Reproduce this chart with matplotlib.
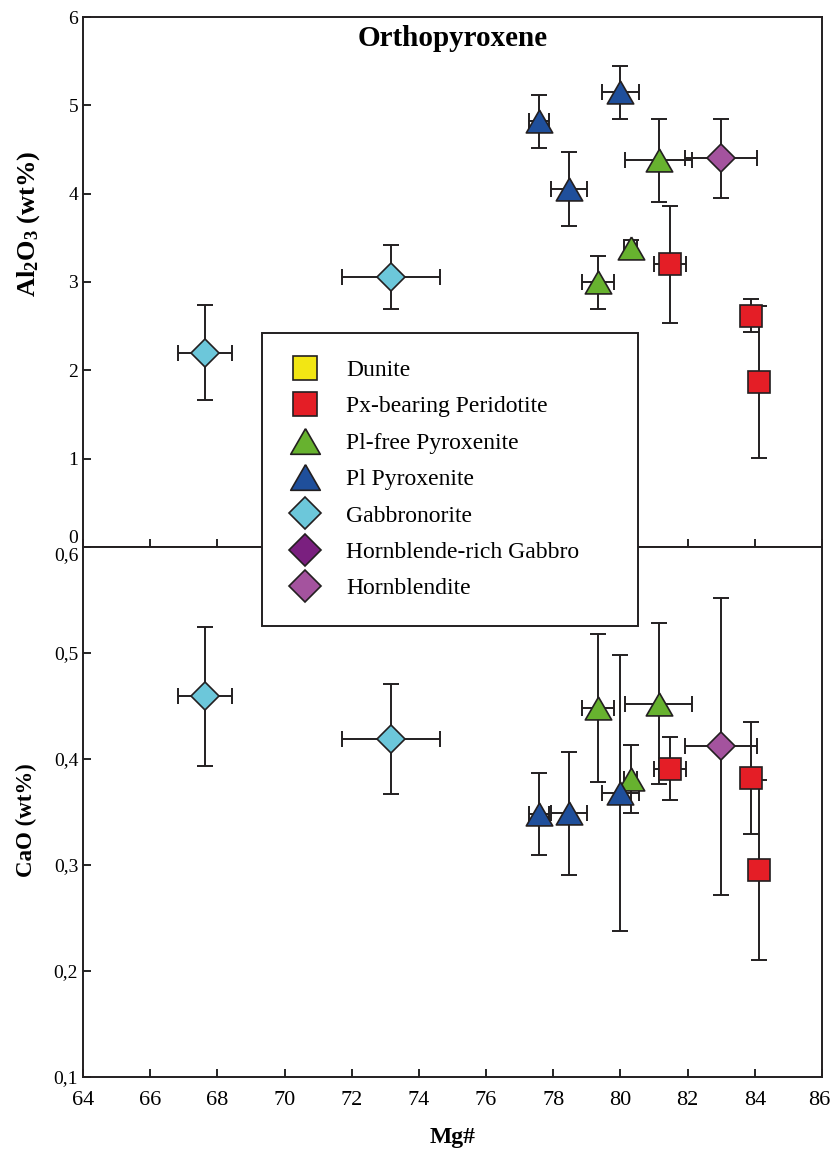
import numpy as np
import matplotlib
matplotlib.use('Agg')
import matplotlib.pyplot as plt
from matplotlib.lines import Line2D
from matplotlib.transforms import ScaledTranslation

plt.rcParams['font.family'] = ['Liberation Serif', 'DejaVu Serif']
plt.rcParams['mathtext.fontset'] = 'custom'
plt.rcParams['mathtext.rm'] = 'Liberation Serif:bold'
plt.rcParams['mathtext.bf'] = 'Liberation Serif:bold'
plt.rcParams['mathtext.it'] = 'Liberation Serif:bold'

# Mg# with 1-sigma errors, per lithology
gab_mg = [67.63, 73.17]
gab_mg_err = [0.80, 1.47]
plfree_mg = [79.33, 80.30, 81.14]
plfree_mg_err = [0.48, 0.20, 1.00]
pl_mg = [77.57, 78.46, 80.00]
pl_mg_err = [0.30, 0.53, 0.54]
per_mg = [81.47, 83.88, 84.12]
per_mg_err = [0.48, 0.0, 0.0]
hbl_mg = [83.00]
hbl_mg_err = [1.07]

# Al2O3 (wt%)
gab_al = [2.20, 3.06]
gab_al_err = [0.54, 0.36]
plfree_al = [3.00, 3.38, 4.38]
plfree_al_err = [0.30, 0.10, 0.47]
pl_al = [4.82, 4.05, 5.15]
pl_al_err = [0.30, 0.42, 0.30]
per_al = [3.20, 2.62, 1.87]
per_al_err = [0.66, 0.19, 0.86]
hbl_al = [4.40]
hbl_al_err = [0.45]

# CaO (wt%)
gab_ca = [0.459, 0.419]
gab_ca_err = [0.066, 0.052]
plfree_ca = [0.448, 0.381, 0.452]
plfree_ca_err = [0.070, 0.032, 0.076]
pl_ca = [0.348, 0.349, 0.368]
pl_ca_err = [0.039, 0.058, 0.130]
per_ca = [0.391, 0.382, 0.295]
per_ca_err = [0.030, 0.053, 0.085]
hbl_ca = [0.412]
hbl_ca_err = [0.140]

legend_labels = ['Dunite', 'Px-bearing Peridotite', 'Pl-free Pyroxenite', 'Pl Pyroxenite',
                 'Gabbronorite', 'Hornblende-rich Gabbro', 'Hornblendite']

al_ticks = [0, 1, 2, 3, 4, 5, 6]
ca_ticks = [0.1, 0.2, 0.3, 0.4, 0.5, 0.6]
ca_ticklabels = ['0,1', '0,2', '0,3', '0,4', '0,5', '0,6']
mg_ticks = [64, 66, 68, 70, 72, 74, 76, 78, 80, 82, 84, 86]

# equilateral triangle marker
tri = [(0, 0.866), (-1, -0.866), (1, -0.866), (0, 0.866)]

styles = {
    'Dunite': dict(marker='s', ms=16, mfc='#F2E614'),
    'Px-bearing Peridotite': dict(marker='s', ms=15.8, mfc='#E41E26'),
    'Pl-free Pyroxenite': dict(marker=tri, ms=19, mfc='#67B22F'),
    'Pl Pyroxenite': dict(marker=tri, ms=19, mfc='#1F4F9B'),
    'Gabbronorite': dict(marker='D', ms=14.5, mfc='#6CC7DA'),
    'Hornblende-rich Gabbro': dict(marker='D', ms=14.5, mfc='#7A1F7F'),
    'Hornblendite': dict(marker='D', ms=14.5, mfc='#A4539E'),
}

fig = plt.figure(figsize=(8.32, 11.53), dpi=100)
ax1 = fig.add_axes([83/832, 1-547/1153, 739/832, 530/1153])
ax2 = fig.add_axes([83/832, 1-1077/1153, 739/832, 530/1153])

top_sets = [
    ('Pl-free Pyroxenite', plfree_mg, plfree_al, plfree_mg_err, plfree_al_err),
    ('Pl Pyroxenite', pl_mg, pl_al, pl_mg_err, pl_al_err),
    ('Gabbronorite', gab_mg, gab_al, gab_mg_err, gab_al_err),
    ('Px-bearing Peridotite', per_mg, per_al, per_mg_err, per_al_err),
    ('Hornblendite', hbl_mg, hbl_al, hbl_mg_err, hbl_al_err),
]
bot_sets = [
    ('Pl-free Pyroxenite', plfree_mg, plfree_ca, plfree_mg_err, plfree_ca_err),
    ('Pl Pyroxenite', pl_mg, pl_ca, pl_mg_err, pl_ca_err),
    ('Gabbronorite', gab_mg, gab_ca, gab_mg_err, gab_ca_err),
    ('Px-bearing Peridotite', per_mg, per_ca, per_mg_err, per_ca_err),
    ('Hornblendite', hbl_mg, hbl_ca, hbl_mg_err, hbl_ca_err),
]

for ax, sets in [(ax1, top_sets), (ax2, bot_sets)]:
    # error bars underneath all symbols
    for name, x, y, xe, ye in sets:
        ax.errorbar(x, y, xerr=xe, yerr=ye, fmt='none', ecolor='#231F20',
                    elinewidth=1.4, capsize=6, capthick=1.4, zorder=2)
    for name, x, y, xe, ye in sets:
        st = styles[name]
        ax.plot(x, y, linestyle='none', marker=st['marker'], markersize=st['ms'],
                markerfacecolor=st['mfc'], markeredgecolor='#231F20',
                markeredgewidth=1.2, zorder=3)
    ax.set_xlim(64, 86)
    ax.set_xticks(mg_ticks)
    ax.tick_params(direction='in', length=6, width=1.2, top=False, right=False)
    for s in ax.spines.values():
        s.set_linewidth(1.4)
        s.set_color('#231F20')

ax1.set_ylim(0, 6)
ax1.set_yticks(al_ticks)
ax1.set_yticklabels([str(t) for t in al_ticks], fontsize=14)
ax1.tick_params(axis='x', labelbottom=False)
ax1.set_ylabel(r'Al$_2$O$_3$ (wt%)', fontsize=19, fontweight='bold')
ax1.yaxis.set_label_coords(-0.056, 0.61)
ax1.text(0.5, 0.96, 'Orthopyroxene', transform=ax1.transAxes, ha='center', va='center',
         fontsize=21, fontweight='bold')

ax2.set_ylim(0.1, 0.6)
ax2.set_yticks(ca_ticks)
ax2.set_yticklabels(ca_ticklabels, fontsize=14)
ax2.set_xticklabels([str(t) for t in mg_ticks], fontsize=16)
ax2.tick_params(axis='x', pad=10)
ax2.set_xlabel('Mg#', fontsize=17, fontweight='bold', labelpad=12)
ax2.set_ylabel('CaO (wt%)', fontsize=16.5, fontweight='bold')
ax2.yaxis.set_label_coords(-0.062, 0.485)

# keep the shared 0 / 0,6 labels apart at the panel join
ax1.get_yticklabels()[0].set_verticalalignment('bottom')
ax2.get_yticklabels()[-1].set_verticalalignment('top')
last = ax2.get_xticklabels()[-1]
last.set_transform(last.get_transform() + ScaledTranslation(-3/100, 0, fig.dpi_scale_trans))

handles = []
for lab in legend_labels:
    st = styles[lab]
    ms = st['ms'] * 1.12
    handles.append(Line2D([], [], linestyle='none', marker=st['marker'], markersize=ms,
                          markerfacecolor=st['mfc'], markeredgecolor='#231F20',
                          markeredgewidth=1.2))
leg = fig.legend(handles, legend_labels, loc='upper left',
                 bbox_to_anchor=(262/832, 1-620/1153, 376/832, 287/1153), mode='expand',
                 borderaxespad=0, fontsize=17, frameon=True, fancybox=False,
                 borderpad=1.12, handlelength=1.4, handletextpad=1.04, labelspacing=0.63)
leg.get_frame().set_edgecolor('#231F20')
leg.get_frame().set_linewidth(1.4)
leg.get_frame().set_alpha(1)

fig.savefig('out.png', dpi=100)
